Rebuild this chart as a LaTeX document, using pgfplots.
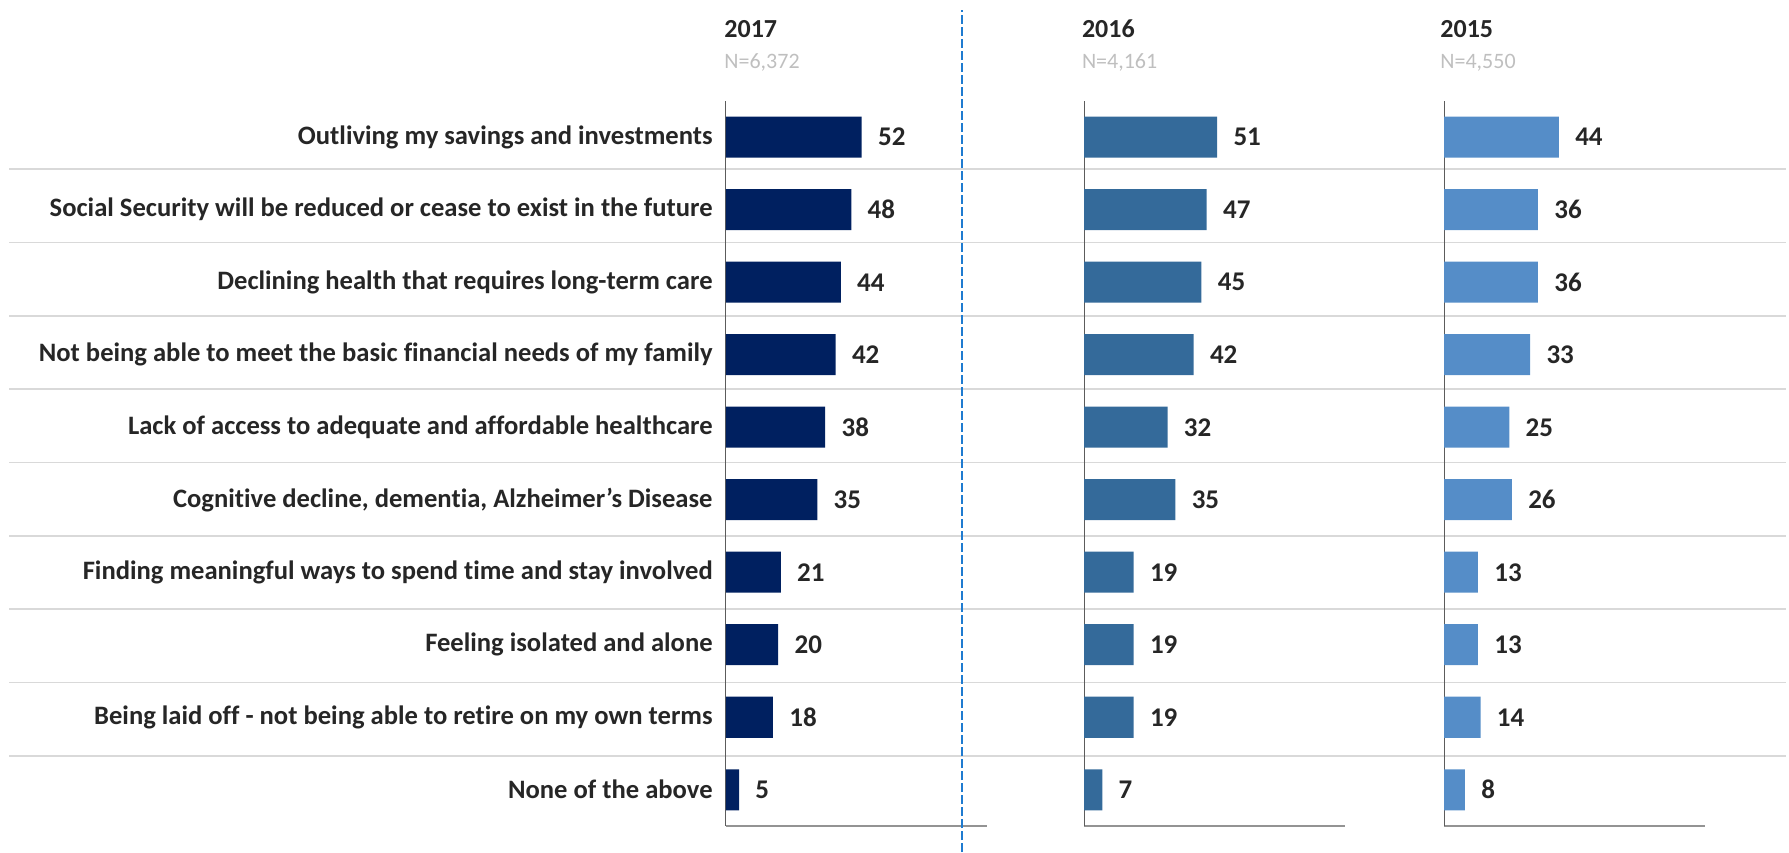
\documentclass[border=0pt]{standalone}
\usepackage{fontspec}
\setmainfont{Carlito}[Ligatures=NoCommon]
\usepackage{pgfplots}
\usepackage{pgfplotstable}
\pgfplotsset{compat=1.18}

\definecolor{cA}{HTML}{002060}
\definecolor{cB}{HTML}{346A9A}
\definecolor{cC}{HTML}{558DC8}
\definecolor{txt}{HTML}{262626}
\definecolor{sub}{HTML}{BFBFBF}
\definecolor{sep}{HTML}{D9D9D9}
\definecolor{divblue}{HTML}{1F7BD0}

% pos 9 = top row
\pgfplotstableread{
pos v17 v16 v15
9 52 51 44
8 48 47 36
7 44 45 36
6 42 42 33
5 38 32 25
4 35 35 26
3 21 19 13
2 20 19 13
1 18 19 14
0 5 7 8
}\concerns

\pgfplotsset{
  panel/.style={
    xbar, bar width=20.5pt, bar shift=0pt,
    width=130.5pt, height=362.5pt, scale only axis,
    xmin=0, xmax=100, ymin=-0.5, ymax=9.5,
    axis x line*=bottom, axis y line*=left,
    x axis line style={draw=gray!85, line width=1.2pt, -},
    y axis line style={draw=txt!75, line width=0.5pt, -},
    xtick=\empty, ytick=\empty, major tick length=0pt,
    /pgf/number format/assume math mode=true,
    nodes near coords, point meta=x,
    every node near coord/.style={anchor=west, inner sep=0pt, xshift=8pt,
      font=\fontsize{13.5}{16}\selectfont\bfseries, text=txt},
    anchor=south west, clip=false,
  },
}

\begin{document}
\begin{tikzpicture}
\path[use as bounding box] (0pt,0pt) rectangle (894.5pt,426pt);

% row separators
\foreach \yy in {341.35,304.7,268,231.35,194.7,158,121.35,84.7,48}
  \draw[sep, line width=0.9pt] (4.5pt,\yy pt) -- (893pt,\yy pt);

% 2017
\begin{axis}[panel, at={(363pt,13pt)},
  ytick={0,...,9},
  yticklabels={None of the above,
    Being laid off - not being able to retire on my own terms,
    Feeling isolated and alone,
    Finding meaningful ways to spend time and stay involved,
    {Cognitive decline, dementia, Alzheimer’s Disease},
    Lack of access to adequate and affordable healthcare,
    Not being able to meet the basic financial needs of my family,
    Declining health that requires long-term care,
    Social Security will be reduced or cease to exist in the future,
    Outliving my savings and investments},
  yticklabel style={anchor=east, inner sep=0pt, xshift=-6.5pt,
    font=\fontsize{13.3}{16}\selectfont\bfseries, text=txt},
]
\addplot[fill=cA, draw=none] table[x=v17, y=pos] {\concerns};
\end{axis}

% 2016
\begin{axis}[panel, at={(542pt,13pt)}]
\addplot[fill=cB, draw=none] table[x=v16, y=pos] {\concerns};
\end{axis}

% 2015
\begin{axis}[panel, at={(722pt,13pt)}]
\addplot[fill=cC, draw=none] table[x=v15, y=pos] {\concerns};
\end{axis}

% headers
\foreach \xx/\yr/\n in {362/2017/{6,372}, 540.8/2016/{4,161}, 720/2015/{4,550}} {
  \node[anchor=base west, inner sep=0pt, text=txt,
        font=\fontsize{13}{15}\selectfont\bfseries] at (\xx pt,407.3pt) {\yr};
  \node[anchor=base west, inner sep=0pt, text=sub,
        font=\fontsize{11}{13}\selectfont] at (\xx pt,391.5pt) {N=\n};
}

% divider
\draw[divblue, line width=1pt, dash pattern=on 4.5pt off 1.5pt] (481pt,0pt) -- (481pt,421pt);
\end{tikzpicture}
\end{document}
